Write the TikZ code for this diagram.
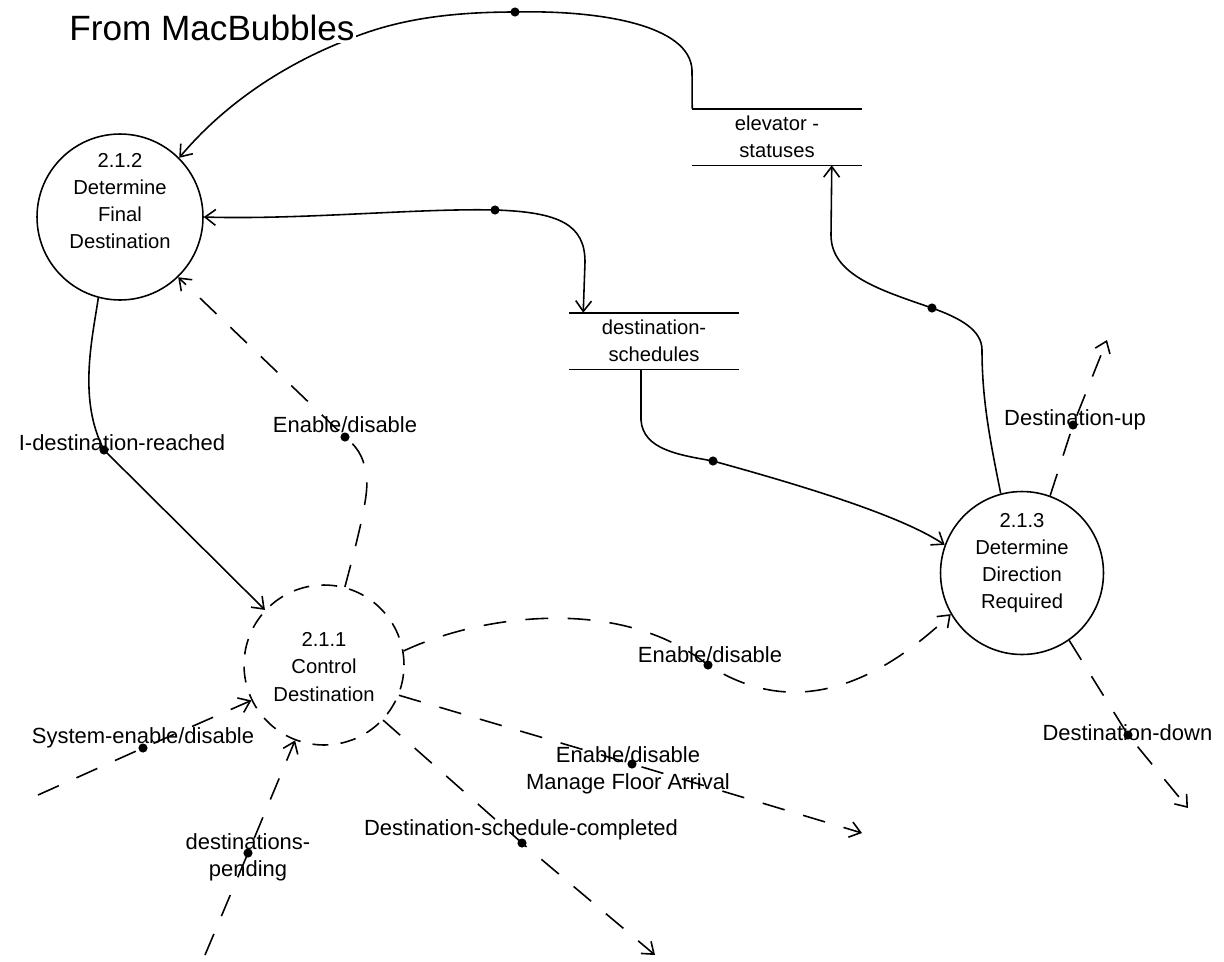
\documentclass[tikz,border=0pt]{standalone}
\usepackage{fontspec}
\setmainfont{Liberation Sans}
\usetikzlibrary{arrows.meta}

\begin{document}
\begin{tikzpicture}[
	x=0.02cm, y=-0.02cm,
	line width=0.9pt,
	>={Straight Barb[length=6pt,width=9pt]},
	font=\fontsize{12.5}{15.5}\selectfont,
	proc/.style={circle,draw,inner sep=0pt},
	ptext/.style={align=center,font=\fontsize{11.5}{15.5}\selectfont},
	store/.style={minimum width=3.36cm,minimum height=1.1cm,inner sep=0pt,align=center,font=\fontsize{11.5}{15.5}\selectfont},
	flow/.style={->},
	ctrl/.style={->,dash pattern=on 13pt off 11pt},
	lbl/.style={align=center,inner sep=1pt},
	]
\useasboundingbox (0,0) rectangle (1224,961);

% processes
\node [proc,minimum size=3.32cm] (p212) at (120,217) {};
\node [proc,minimum size=3.2cm,dash pattern=on 9pt off 7pt] (p211) at (324,665) {};
\node [proc,minimum size=3.26cm] (p213) at (1022,573) {};
\node [ptext] (t212) at (120,201) {2.1.2\\Determine\\Final\\Destination};
\node [ptext] (t211) at (324,667) {2.1.1\\Control\\Destination};
\node [ptext] (t213) at (1022,563) {2.1.3\\Determine\\Direction\\Required};

% data stores
\node [store] (es) at (777,137) {elevator -\\statuses};
\node [store] (ds) at (654,341) {destination-\\schedules};
\draw (es.north west) -- (es.north east) (es.south west) -- (es.south east);
\draw (ds.north west) -- (ds.north east) (ds.south west) -- (ds.south east);

% label dots and loose ends
\coordinate (d0) at (515,12);
\coordinate (d1) at (932,308);
\coordinate (d2) at (495,210);
\coordinate (d3) at (713,461);
\coordinate (d4) at (104,450);
\coordinate (d5) at (345,437);
\coordinate (d6) at (708,665);
\coordinate (d7) at (632,764);
\coordinate (d8) at (522,843);
\coordinate (d9) at (143,748);
\coordinate (d10) at (248,853);
\coordinate (d11) at (1073,425);
\coordinate (d12) at (1128,735);
\coordinate (e1) at (862,833);
\coordinate (e2) at (655,955);
\coordinate (e3) at (38,795);
\coordinate (e4) at (205,955);
\coordinate (e5) at (1107,340);
\coordinate (e6) at (1188,808);

% data flows
\draw [flow] (es.north west) -- (692,70) .. controls (690,25) and (600,10) .. (d0)
	.. controls (440,12) and (390,22) .. (347,40) .. controls (270,70) and (215,115) .. (p212.45);
\draw [flow] (p213.105) .. controls (990,440) and (982,400) .. (982,350)
	.. controls (982,330) and (960,318) .. (d1) .. controls (880,290) and (831,275) .. (831,235)
	-- ([xshift=-0.6cm]es.south east);
\draw [<->] (p212.east) .. controls (300,220) and (420,208) .. (d2)
	.. controls (560,212) and (585,225) .. (585,262) -- ([xshift=0.28cm]ds.north west);
\draw [flow] ([xshift=-0.26cm]ds.south) -- (641,420) .. controls (643,450) and (680,455) .. (d3)
	.. controls (800,485) and (900,515) .. (p213.160);
\draw [flow] (p212.-105) .. controls (92,340) and (78,400) .. (d4) -- (p211.137);

% control flows
\draw [ctrl] (p211.75) .. controls (360,530) and (370,490) .. (366,475)
	.. controls (364,455) and (355,445) .. (d5) -- (p212.-46);
\draw [ctrl] (p211.10) .. controls (480,615) and (620,595) .. (d6)
	.. controls (770,705) and (850,710) .. (p213.210);
\draw [ctrl] (p211.-22) -- (d7) -- (e1);
\draw [ctrl] (p211.-43) -- (d8) -- (e2);
\draw [ctrl] (e3) -- (d9) -- (p211.206);
\draw [ctrl] (e4) -- (d10) -- (p211.-111);
\draw [ctrl] (p213.70) -- (d11) -- (e5);
\draw [ctrl] (p213.-55) -- (d12) -- (e6);

\foreach \d in {d0,d1,d2,d3,d4,d5,d6,d7,d8,d9,d10,d11,d12}
	\fill (\d) circle (2.6pt);

% labels
\node [font=\fontsize{20}{24}\selectfont,fill=white,inner sep=1pt] (title) at (212,28) {From MacBubbles};
\node [lbl] (l1) at (122,443) {I-destination-reached};
\node [lbl] (l2) at (345,425) {Enable/disable};
\node [lbl] (l3) at (1075,420) {Destination-up};
\node [lbl] (l4) at (710,655) {Enable/disable};
\node [lbl,anchor=west] (l5) at (1040,733) {Destination-down};
\node [lbl] (l6) at (143,738) {System-enable/disable};
\node [lbl] (l7) at (628,770) {Enable/disable\\Manage Floor Arrival};
\node [lbl] (l8) at (248,857) {destinations-\\pending};
\node [lbl] (l9) at (521,830) {Destination-schedule-completed};
\end{tikzpicture}
\end{document}
